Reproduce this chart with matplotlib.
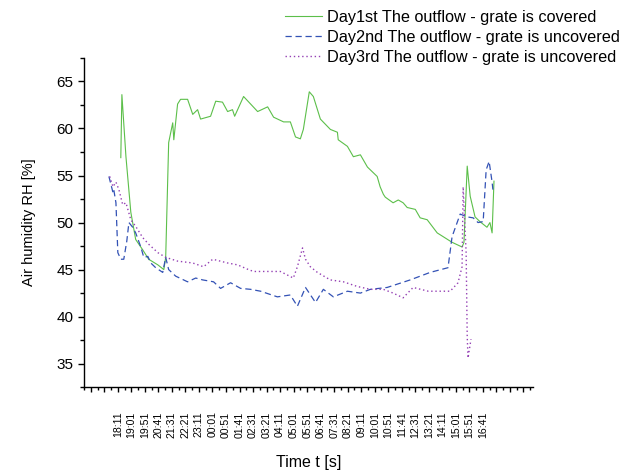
import matplotlib
matplotlib.use("Agg")
import matplotlib.pyplot as plt
from matplotlib.ticker import MultipleLocator, FixedLocator

plt.rcParams["font.family"] = ["Liberation Sans", "DejaVu Sans"]

# time axis: minutes after 18:11
tick_labels = ["18:11", "19:01", "19:51", "20:41", "21:31", "22:21", "23:11",
               "00:01", "00:51", "01:41", "02:31", "03:21", "04:11", "05:01",
               "05:51", "06:41", "07:31", "08:21", "09:11", "10:01", "10:51",
               "11:41", "12:31", "13:21", "14:11", "15:01", "15:51", "16:41"]

day1_t = [11, 15, 30, 48, 66, 92, 114, 148, 170, 177, 188, 203, 207, 221, 232,
          258, 277, 295, 306, 343, 362, 387, 406, 424, 432, 465, 491, 517, 554,
          576, 613, 638, 657, 675, 686, 708, 723, 749, 786, 812, 815, 849, 871,
          897, 923, 959, 970, 982, 989, 1018, 1037, 1055, 1070, 1100, 1118, 1144,
          1181, 1203, 1236, 1273, 1280, 1292, 1303, 1321, 1339, 1365, 1376,
          1384, 1391]
day1_rh = [56.9, 63.6, 57.0, 51.1, 48.2, 47.1, 46.1, 45.5, 45.0, 46.3, 58.5,
           60.6, 58.8, 62.6, 63.1, 63.1, 61.5, 62.0, 61.0, 61.3, 62.9, 62.8,
           61.8, 62.0, 61.3, 63.4, 62.6, 61.8, 62.3, 61.2, 60.7, 60.7, 59.1,
           58.9, 59.9, 63.9, 63.4, 61.0, 59.9, 59.6, 58.8, 58.1, 57.0, 57.2,
           55.9, 54.9, 53.8, 53.0, 52.7, 52.1, 52.4, 52.1, 51.6, 51.4, 50.5,
           50.3, 48.9, 48.5, 47.9, 47.4, 47.9, 56.0, 52.8, 50.6, 50.1, 49.5,
           50.0, 48.9, 54.4]

day2_t = [-33, -18, -15, -7, 0, 11, 22, 33, 41, 55, 66, 85, 96, 111, 122, 140,
          166, 177, 188, 214, 258, 288, 314, 354, 380, 417, 454, 491, 528, 590,
          638, 664, 694, 731, 760, 797, 849, 897, 934, 996, 1081, 1155, 1221,
          1236, 1266, 1292, 1314, 1332, 1351, 1362, 1373, 1384, 1387]
day2_rh = [54.9, 53.2, 53.5, 52.1, 46.8, 46.1, 46.1, 48.0, 50.0, 49.5, 48.9,
           47.4, 46.3, 46.4, 45.7, 45.2, 44.7, 46.3, 45.0, 44.3, 43.7, 44.1,
           43.9, 43.7, 43.0, 43.6, 43.0, 42.9, 42.7, 42.1, 42.3, 41.1, 43.1,
           41.5, 42.9, 42.1, 42.7, 42.5, 42.9, 43.1, 43.9, 44.7, 45.2, 48.5,
           50.9, 50.6, 50.5, 50.0, 50.1, 55.6, 56.5, 54.3, 53.5]

day3_t = [-30, -18, -7, 4, 18, 30, 48, 66, 92, 114, 148, 177, 221, 277, 317,
          351, 406, 443, 483, 502, 554, 601, 649, 664, 683, 694, 712, 738, 786,
          834, 886, 934, 982, 1018, 1055, 1092, 1148, 1229, 1258, 1273, 1277,
          1288, 1292, 1295, 1306]
day3_rh = [54.9, 53.8, 54.3, 53.5, 51.9, 52.1, 50.3, 49.6, 48.4, 47.7, 46.8,
           46.3, 45.9, 45.7, 45.3, 46.1, 45.7, 45.5, 45.0, 44.8, 44.8, 44.8,
           44.1, 45.3, 47.3, 46.1, 45.3, 44.7, 43.9, 43.7, 43.2, 42.9, 42.9,
           42.5, 42.0, 43.1, 42.7, 42.7, 43.6, 45.3, 53.8, 46.8, 37.9, 35.6,
           37.6]

fig = plt.figure(figsize=(6.39, 4.71), dpi=100)
ax = fig.add_axes([0.1315, 0.178, 0.7025, 0.699])

l1, = ax.plot(day1_t, day1_rh, color="#5cbf4a", lw=0.8, ls="-")
l2, = ax.plot(day2_t, day2_rh, color="#3352b5", lw=0.9, ls=(0, (5, 3)))
l3, = ax.plot(day3_t, day3_rh, color="#9440b4", lw=1.0, ls=(0, (1, 2)))

ax.set_xlim(-125, 1535)
ax.set_ylim(32.5, 67.5)

ax.spines["top"].set_visible(False)
ax.spines["right"].set_visible(False)
ax.spines["left"].set_linewidth(1.0)
ax.spines["bottom"].set_linewidth(1.0)

ax.xaxis.set_major_locator(FixedLocator([50 * i for i in range(-2, 31)]))
ax.xaxis.set_minor_locator(FixedLocator([25 + 50 * i for i in range(-3, 31)]))
ax.set_xticklabels([""] * 2 + tick_labels + [""] * 3, rotation=90,
                   fontsize=7.6, family="Liberation Sans")
ax.set_yticks([35, 40, 45, 50, 55, 60, 65])
ax.yaxis.set_minor_locator(MultipleLocator(2.5))
ax.tick_params(axis="y", which="major", direction="out", length=4.5, width=1,
               labelsize=11, pad=3)
ax.tick_params(axis="y", which="minor", direction="out", length=3, width=1)
ax.tick_params(axis="x", which="major", direction="out", length=3.5, width=1,
               pad=14)
ax.tick_params(axis="x", which="minor", direction="out", length=2, width=1)

ax.set_ylabel("Air humidity RH [%]", fontsize=10.5, labelpad=15)
fig.text(0.4828, 1 - 462 / 471, "Time t [s]", fontsize=11.5,
         ha="center", va="center")

fig.legend([l1, l2, l3],
           ["Day1st The outflow - grate is covered",
            "Day2nd The outflow - grate is uncovered",
            "Day3rd The outflow - grate is uncovered"],
           loc="upper left", bbox_to_anchor=(285 / 639, 1 - 10 / 471),
           frameon=False, fontsize=11.7, handlelength=2.3, handletextpad=0.3,
           labelspacing=0.3, borderaxespad=0, borderpad=0)

fig.savefig("out.png", dpi=100)
